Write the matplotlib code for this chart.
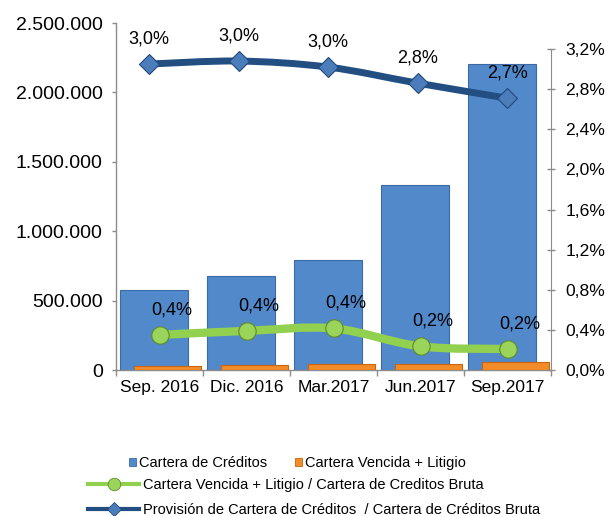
import matplotlib
matplotlib.use('Agg')
import matplotlib.pyplot as plt
import numpy as np
from matplotlib.path import Path
from matplotlib.patches import PathPatch, Patch
from matplotlib.lines import Line2D
from matplotlib.ticker import FuncFormatter, FixedLocator

plt.rcParams['font.family'] = ['Liberation Sans', 'DejaVu Sans']

# ---------------- data ----------------
categories = ['Sep. 2016', 'Dic. 2016', 'Mar.2017', 'Jun.2017', 'Sep.2017']
cartera_creditos = [576000, 677000, 792000, 1333000, 2205000]
cartera_vencida = [28000, 36000, 43000, 43000, 58000]
ratio_vencida = [0.35, 0.39, 0.415, 0.236, 0.21]
ratio_vencida_labels = ['0,4%', '0,4%', '0,4%', '0,2%', '0,2%']
ratio_provision = [3.05, 3.08, 3.02, 2.86, 2.71]
ratio_provision_labels = ['3,0%', '3,0%', '3,0%', '2,8%', '2,7%']
left_ticks = [0, 500000, 1000000, 1500000, 2000000, 2500000]
right_ticks = [0.0, 0.4, 0.8, 1.2, 1.6, 2.0, 2.4, 2.8, 3.2]

legend_labels = ['Cartera de Créditos', 'Cartera Vencida + Litigio',
                 'Cartera Vencida + Litigio / Cartera de Creditos Bruta',
                 'Provisión de Cartera de Créditos  / Cartera de Créditos Bruta']

# ---------------- styles ----------------
BLUE_BAR = '#5289CB'
BLUE_EDGE = '#3C6AA6'
ORANGE = '#F28C28'
ORANGE_EDGE = '#C8650E'
GREEN = '#92D050'
GREEN_MK = '#9AD45A'
GREEN_EDGE = '#5E8C2A'
NAVY = '#234E82'
DIAMOND = '#4A7DBA'
DIAMOND_EDGE = '#24497A'
SPINE = '#8C8C8C'


def smooth_path(xs, ys):
    pts = np.column_stack([xs, ys]).astype(float)
    n = len(pts)
    verts = [pts[0]]
    codes = [Path.MOVETO]
    for i in range(n - 1):
        p0 = pts[i - 1] if i > 0 else pts[i]
        p1 = pts[i]
        p2 = pts[i + 1]
        p3 = pts[i + 2] if i + 2 < n else pts[i + 1]
        c1 = p1 + (p2 - p0) / 6.0
        c2 = p2 - (p3 - p1) / 6.0
        verts += [c1, c2, p2]
        codes += [Path.CURVE4] * 3
    return Path(verts, codes)


fig = plt.figure(figsize=(6.09, 5.16), dpi=100)
ax1 = fig.add_axes([0.1905, 0.2829, 0.7143, 0.6725])

x = np.arange(len(categories))
ax1.bar(x - 0.06, cartera_creditos, 0.78, color=BLUE_BAR, edgecolor=BLUE_EDGE,
        linewidth=0.8, zorder=2)
ax1.bar(x + 0.09, cartera_vencida, 0.77, color=ORANGE, edgecolor=ORANGE_EDGE,
        linewidth=0.8, zorder=3)

ax1.set_xlim(-0.5, len(categories) - 0.5)
ax1.set_ylim(0, 2500000)
ax1.yaxis.set_major_locator(FixedLocator(left_ticks))
ax1.yaxis.set_major_formatter(FuncFormatter(lambda v, p: f'{int(v):,}'.replace(',', '.')))
ax1.set_xticks(x)
ax1.set_xticklabels(categories)
ax1.set_xticks(np.arange(len(categories) + 1) - 0.5, minor=True)
ax1.tick_params(axis='x', which='major', length=0, pad=7, labelsize=12.5, colors='black')
ax1.tick_params(axis='x', which='minor', length=4, width=1, color=SPINE, direction='out')
ax1.tick_params(axis='y', length=3, width=1, color=SPINE, direction='out', pad=6.5,
                labelsize=14)
for s in ['top', 'right']:
    ax1.spines[s].set_visible(False)
for s in ['left', 'bottom']:
    ax1.spines[s].set_color(SPINE)
    ax1.spines[s].set_linewidth(1)

# secondary axis
ax2 = ax1.twinx()
ax2.set_ylim(0, 3.2 * 347 / 321)
ax2.yaxis.set_major_locator(FixedLocator(right_ticks))
ax2.yaxis.set_major_formatter(FuncFormatter(lambda v, p: f'{v:.1f}%'.replace('.', ',')))
ax2.spines['right'].set_bounds(0, 3.2)
ax2.spines['right'].set_color(SPINE)
for s in ['top', 'left', 'bottom']:
    ax2.spines[s].set_visible(False)
ax2.tick_params(axis='y', length=6, width=1, color=SPINE, direction='inout', pad=7.5,
                labelsize=12.6)

# green ratio line (category centres)
ax2.add_patch(PathPatch(smooth_path(x, ratio_vencida), fill=False, edgecolor=GREEN,
                        linewidth=6, capstyle='round', zorder=4))
ax2.plot(x, ratio_vencida, linestyle='none', marker='o', markersize=12.5,
         markerfacecolor=GREEN_MK, markeredgecolor=GREEN_EDGE, markeredgewidth=0.8,
         zorder=5)
for xi, yi, lab in zip(x, ratio_vencida, ratio_vencida_labels):
    ax2.annotate(lab, (xi, yi), xytext=(12, 25), textcoords='offset pixels',
                 ha='center', va='center', fontsize=13, zorder=6)

# navy provision line (slightly shifted x scale as in the reference)
ax3 = ax2.twiny()
ax3.set_xlim((116 - 149) / 89.5, (551 - 149) / 89.5)
ax3.axis('off')
ax3.add_patch(PathPatch(smooth_path(x, ratio_provision), fill=False, edgecolor=NAVY,
                        linewidth=5, capstyle='round', zorder=4))
ax3.plot(x, ratio_provision, linestyle='none', marker='D', markersize=10,
         markerfacecolor=DIAMOND, markeredgecolor=DIAMOND_EDGE, markeredgewidth=0.8,
         zorder=5)
for xi, yi, lab in zip(x, ratio_provision, ratio_provision_labels):
    ax3.annotate(lab, (xi, yi), xytext=(0, 25), textcoords='offset pixels',
                 ha='center', va='center', fontsize=13, zorder=6)

# legends
h1 = [Patch(facecolor=BLUE_BAR, edgecolor=BLUE_EDGE, linewidth=0.6),
      Patch(facecolor=ORANGE, edgecolor=ORANGE_EDGE, linewidth=0.6)]
leg1 = fig.legend(h1, legend_labels[:2], ncol=2, loc='center left',
                  bbox_to_anchor=(129 / 609, (516 - 463) / 516), frameon=False,
                  handlelength=0.5, handleheight=0.5, handletextpad=0.2,
                  columnspacing=1.9, borderpad=0, borderaxespad=0, fontsize=10.5)
h2 = [Line2D([], [], color=GREEN, linewidth=3, marker='o', markersize=9,
             markerfacecolor=GREEN_MK, markeredgecolor=GREEN_EDGE, markeredgewidth=0.6)]
leg2 = fig.legend(h2, [legend_labels[2]], loc='center left',
                  bbox_to_anchor=(88 / 609, (516 - 485) / 516), frameon=False,
                  handlelength=3.5, handletextpad=0.3, borderpad=0, borderaxespad=0,
                  fontsize=10.5)
h3 = [Line2D([], [], color=NAVY, linewidth=3, marker='D', markersize=7,
             markerfacecolor=DIAMOND, markeredgecolor=DIAMOND_EDGE, markeredgewidth=0.6)]
leg3 = fig.legend(h3, [legend_labels[3]], loc='center left',
                  bbox_to_anchor=(88 / 609, (516 - 510) / 516), frameon=False,
                  handlelength=3.5, handletextpad=0.3, borderpad=0, borderaxespad=0,
                  fontsize=10.5)

fig.savefig('out.png', dpi=100)
